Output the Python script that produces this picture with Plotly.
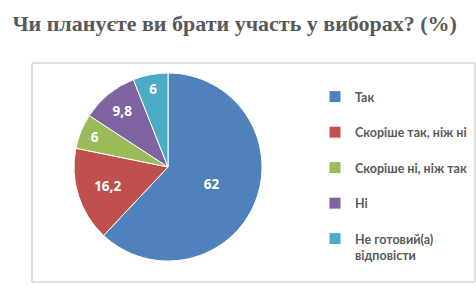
import plotly.graph_objects as go

title_text = "Чи плануєте ви брати участь у виборах? (%)"
labels = ["Так", "Скоріше так, ніж ні", "Скоріше ні, ніж так", "Ні", "Не готовий(а)<br>відповісти"]
values = [62, 16.2, 6, 9.8, 6]
colors = ["#4F81BD", "#C0504D", "#9BBB59", "#8064A2", "#4BACC6"]

W, H = 476, 294
# legend entries padded to two lines so entries are spaced like the original
legend_labels = [l if "<br>" in l else l + "<br> " for l in labels]

fig = go.Figure(go.Pie(
    labels=legend_labels,
    values=values,
    sort=False,
    direction="clockwise",
    rotation=0,
    marker=dict(colors=colors, line=dict(color="white", width=1)),
    texttemplate="%{value}",
    textposition="inside",
    insidetextorientation="horizontal",
    insidetextfont=dict(family="Open Sans", size=13.5, color="white", weight="bold"),
    domain=dict(x=[73 / W, 263 / W], y=[(H - 261) / H, (H - 73) / H]),
    hoverinfo="label+value",
))

fig.update_layout(
    width=W, height=H,
    margin=dict(l=0, r=0, t=0, b=0),
    paper_bgcolor="white",
    plot_bgcolor="white",
    separators=", ",
    title=dict(text="<b>" + title_text + "</b>", x=0.493, xanchor="center",
               y=1 - 23 / H, yanchor="middle", yref="container",
               font=dict(family="Liberation Serif", size=22, color="#595959")),
    legend=dict(x=315 / W, xanchor="left", y=1 - 82 / H, yanchor="top",
                valign="top",
                font=dict(family="Lato", size=12.5, color="#595959", weight="bold"),
                bgcolor="rgba(0,0,0,0)"),
    shapes=[dict(type="rect", xref="paper", yref="paper",
                 x0=32 / W, x1=475 / W, y0=1 - 282 / H, y1=1 - 63 / H,
                 line=dict(color="#BFBFBF", width=1), layer="below")],
)

fig.write_html("out.html")
